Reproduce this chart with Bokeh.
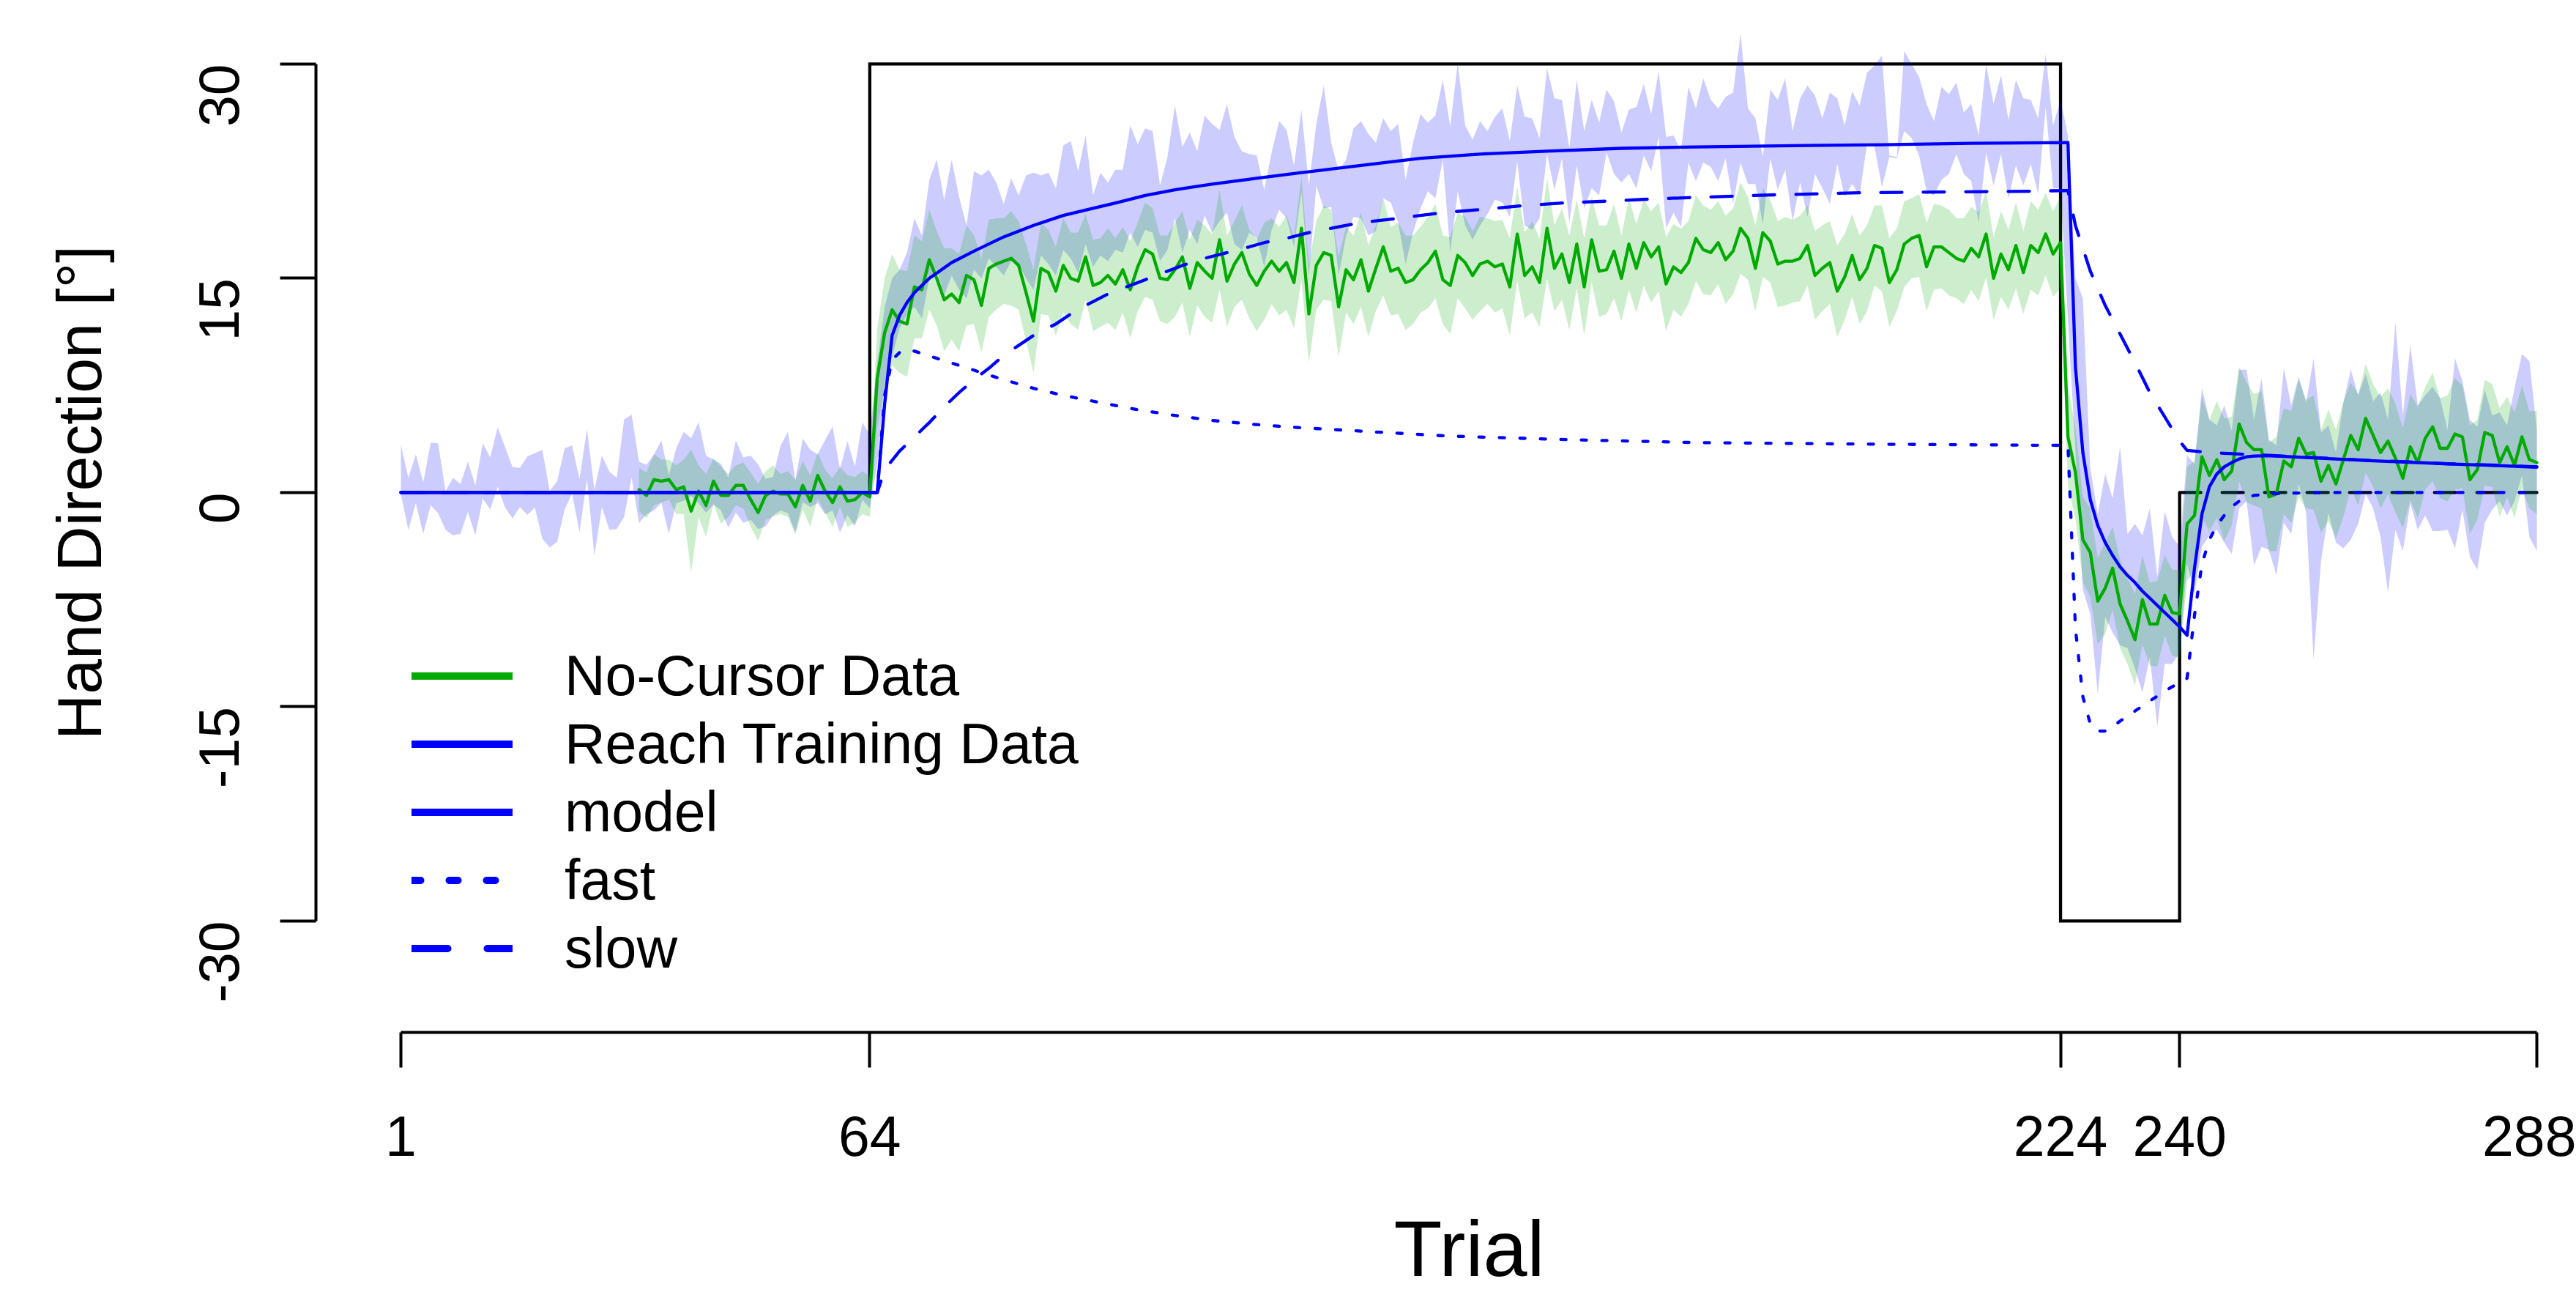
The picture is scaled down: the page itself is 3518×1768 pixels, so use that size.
import math
import numpy as np
from bokeh.plotting import figure
from bokeh.models import Range1d, LinearAxis, FixedTicker, Label, Legend, LegendItem
from bokeh.embed import file_html
from bokeh.resources import INLINE

# ---------------- data ----------------
trials = list(range(1, 289))

schedule_trials = [1, 64, 64, 224, 224, 240, 240]
schedule_values = [0, 0, 30, 30, -30, -30, 0]
clamp_trials = [240, 288]
clamp_values = [0, 0]

x_ticks = [1, 64, 224, 240, 288]
y_ticks = [-30, -15, 0, 15, 30]

# Reach training data: confidence band (trials 1..288)
reach_hi = [
    3.35, 1.04, 2.67, 0.70, 3.49, 3.44, 0.10, 1.04,
    0.60, 2.18, 0.48, 3.44, 2.46, 4.58, 3.18, 1.78,
    1.73, 2.53, 2.75, 3.00, 0.10, 0.79, 3.10, 3.30,
    0.92, 4.46, 0.19, 2.58, 1.47, 1.04, 5.14, 5.45,
    2.15, 1.95, 2.67, 3.64, 1.21, 3.10, 4.24, 3.80,
    4.92, 2.58, 2.32, 2.01, 1.04, 3.64, 2.46, 2.58,
    1.98, 0.96, 1.09, 3.27, 4.26, 0.87, 3.78, 3.00,
    2.67, 3.69, 4.63, 1.64, 3.61, 1.81, 4.92, 4.03,
    9.0, 13.0, 15.0, 15.6, 16.8, 19.2, 18.0, 21.9,
    23.3, 20.5, 23.3, 20.7, 18.7, 22.5, 22.2, 22.6,
    21.7, 20.2, 22.0, 20.8, 22.2, 22.4, 22.2, 22.4,
    21.3, 24.3, 24.6, 22.5, 25.0, 20.8, 22.4, 21.7,
    22.6, 22.6, 25.7, 24.4, 25.5, 25.3, 21.5, 23.5,
    27.1, 24.2, 25.2, 23.9, 26.4, 25.8, 25.4, 27.2,
    24.9, 23.9, 23.7, 23.6, 21.2, 23.8, 26.0, 25.4,
    22.9, 26.8, 21.5, 25.8, 28.5, 24.5, 22.5, 23.3,
    25.5, 26.0, 25.1, 24.5, 26.2, 25.3, 25.8, 21.9,
    24.5, 26.5, 25.9, 26.4, 28.9, 25.6, 30.1, 25.7,
    24.7, 26.0, 25.3, 26.3, 26.9, 24.6, 28.5, 26.3,
    26.2, 24.8, 29.7, 27.6, 27.5, 24.1, 28.9, 25.3,
    27.5, 25.9, 28.2, 27.4, 25.2, 26.8, 27.0, 28.6,
    26.5, 29.5, 24.9, 25.0, 23.9, 28.4, 26.9, 29.0,
    27.5, 26.9, 27.7, 28.0, 32.1, 26.9, 26.2, 23.5,
    28.2, 27.5, 29.0, 25.3, 27.6, 28.5, 27.8, 26.2,
    28.0, 27.6, 25.7, 28.1, 27.1, 29.4, 29.9, 30.6,
    23.6, 23.5, 30.9, 30.0, 29.1, 27.2, 26.0, 28.4,
    27.9, 28.7, 26.6, 27.2, 25.0, 30.0, 27.2, 29.2,
    26.1, 28.9, 27.6, 27.5, 26.2, 30.7, 25.7, 27.5,
    25.0, 15.0, 13.6, 1.7, -1.5, 1.3, -0.4, 3.2,
    -2.9, -2.2, -3.0, -1.1, -5.9, -1.3, -3.1, -3.8,
    2.6, 2.0, 7.3, 5.1, 4.7, 6.1, 4.3, 8.6,
    8.6, 5.1, 8.0, 3.7, 3.3, 8.7, 6.1, 8.1,
    6.3, 9.4, 4.2, 4.7, 2.8, 6.3, 8.6, 6.8,
    8.3, 6.4, 7.0, 5.1, 11.9, 5.4, 10.3, 6.1,
    6.8, 7.4, 6.6, 4.4, 9.4, 7.8, 5.1, 4.6,
    7.2, 5.4, 5.6, 4.7, 7.3, 9.7, 9.2, 4.4,
]
reach_lo = [
    -0.15, -2.63, -0.75, -2.89, -0.89, -1.44, -2.60, -3.00,
    -2.89, -1.35, -3.00, -0.41, -1.18, 0.41, -1.06, -1.81,
    -1.01, -1.57, -1.06, -3.23, -3.83, -3.45, -1.18, -0.07,
    -2.77, 0.96, -4.43, -1.01, -2.60, -2.55, -1.69, 1.04,
    -2.15, -1.52, -1.26, -0.72, -2.89, -0.75, -0.58, -0.24,
    -0.75, -1.40, -0.84, -1.23, -2.46, -1.40, -2.12, -1.91,
    -2.55, -2.38, -1.61, -1.26, -1.44, -2.80, -0.67, -1.01,
    -0.75, -1.52, -1.26, -2.80, -1.57, -2.38, -0.50, -1.09,
    2.0, 7.5, 9.5, 11.5, 12.5, 13.0, 12.2, 15.0,
    15.6, 13.8, 15.2, 14.2, 13.6, 15.6, 15.0, 16.4,
    15.8, 15.2, 16.2, 16.0, 15.0, 14.2, 16.6, 16.0,
    15.2, 17.0, 16.4, 15.4, 17.4, 15.8, 16.6, 16.2,
    17.0, 16.8, 18.2, 17.2, 18.4, 18.2, 16.2, 17.0,
    19.2, 16.8, 18.4, 17.4, 19.4, 18.2, 19.0, 19.6,
    17.4, 17.0, 18.2, 17.8, 15.8, 18.4, 19.8, 19.2,
    17.2, 21.0, 15.1, 21.5, 19.9, 20.0, 15.2, 18.0,
    19.3, 19.2, 18.0, 18.3, 20.6, 20.3, 18.9, 16.0,
    18.2, 19.9, 21.1, 20.6, 23.3, 16.8, 21.1, 18.7,
    17.7, 18.7, 19.5, 20.5, 20.3, 19.3, 23.2, 18.7,
    18.4, 19.2, 23.7, 21.2, 23.4, 18.9, 22.9, 19.9,
    21.3, 20.8, 23.8, 22.3, 21.7, 22.3, 21.3, 23.6,
    22.5, 24.9, 18.5, 19.6, 18.6, 23.1, 21.8, 23.1,
    22.8, 21.8, 23.4, 20.2, 23.1, 21.6, 21.6, 18.8,
    23.4, 21.2, 22.6, 19.0, 21.7, 19.3, 22.3, 21.3,
    20.2, 23.0, 20.7, 21.6, 20.8, 24.4, 24.2, 21.4,
    23.5, 23.4, 25.3, 24.8, 23.6, 21.1, 20.8, 21.9,
    22.3, 23.7, 22.3, 21.8, 18.9, 23.8, 21.5, 23.7,
    20.6, 22.9, 21.5, 23.0, 20.9, 27.0, 21.3, 21.3,
    12.0, 3.0, -6.8, -8.5, -14.1, -8.7, -9.8, -10.7,
    -10.9, -12.3, -14.0, -11.5, -16.4, -12.0, -12.0, -11.2,
    -5.0, -7.1, -3.8, -3.0, -2.6, -3.5, -4.3, -1.1,
    -0.6, -5.1, -3.8, -4.0, -5.8, -2.1, -2.9, 0.6,
    -1.4, -11.7, -4.8, -1.4, -3.5, -3.9, -3.3, -2.2,
    -0.1, -1.1, -3.1, -7.0, -2.6, -4.1, -0.75, -2.6,
    -1.6, -2.7, -2.7, -2.6, -3.9, -1.2, -4.5, -5.4,
    -2.1, -1.2, -0.6, -1.6, -0.6, 1.2, -3.1, -4.1,
]

# No-cursor data (trials 33..288): mean and confidence half-width
nocursor_trials = list(range(33, 289))
nocursor_mean = [
    0.2, -0.2, 0.9, 0.8, 0.9, 0.2, 0.4, -1.3,
    0.1, -0.9, 0.8, -0.2, -0.2, 0.5, 0.5, -0.5,
    -1.4, -0.2, 0.1, -0.1, -0.1, -1.0, 0.5, -0.6,
    1.2, 0.1, -0.7, 0.4, -0.6, -0.5, 0.0, -0.3,
    8.0, 11.2, 12.8, 12.0, 11.8, 14.4, 14.2, 16.3,
    15.0, 13.5, 13.9, 13.3, 15.2, 14.9, 13.1, 15.7,
    16.0, 16.2, 16.4, 15.9, 14.0, 12.0, 15.7, 15.4,
    14.1, 15.9, 15.0, 14.8, 16.5, 14.5, 14.7, 15.2,
    14.6, 15.6, 14.2, 15.8, 17.0, 16.7, 15.0, 14.9,
    15.6, 16.5, 14.3, 16.1, 15.5, 15.0, 17.7, 14.8,
    16.0, 16.8, 15.3, 14.5, 15.5, 16.2, 15.5, 16.1,
    14.7, 18.5, 12.5, 15.9, 16.8, 16.6, 13.0, 15.6,
    14.9, 16.3, 14.1, 15.7, 17.2, 15.5, 15.7, 14.7,
    14.9, 15.6, 16.1, 16.9, 14.9, 14.5, 16.6, 16.1,
    15.2, 16.0, 16.2, 15.8, 16.0, 14.4, 18.1, 15.2,
    15.8, 14.7, 18.5, 15.7, 16.7, 14.7, 17.4, 14.4,
    17.7, 15.5, 15.6, 16.9, 15.0, 17.4, 15.7, 17.5,
    16.5, 17.2, 14.6, 15.8, 15.4, 16.1, 17.8, 17.0,
    16.8, 17.5, 16.3, 16.9, 18.5, 17.8, 15.7, 18.2,
    17.6, 16.0, 16.2, 16.2, 16.4, 17.3, 15.2, 15.7,
    16.1, 14.1, 15.1, 16.6, 14.9, 15.7, 17.3, 17.1,
    14.7, 15.6, 17.4, 17.8, 18.0, 15.8, 17.2, 17.2,
    16.8, 16.4, 16.2, 17.1, 16.5, 18.1, 15.0, 16.7,
    15.6, 17.3, 15.4, 17.3, 16.8, 18.1, 16.7, 17.5,
    3.9, 1.4, -3.3, -4.2, -7.6, -6.7, -5.3, -7.8,
    -9.0, -10.3, -7.5, -9.2, -9.2, -7.2, -8.4, -8.5,
    -2.2, -1.6, 2.5, 1.2, 2.3, 0.9, 1.5, 4.8,
    3.5, 3.0, 3.0, -0.3, -0.1, 2.2, 1.8, 3.8,
    2.7, 2.8, 0.8, 1.9, 0.6, 2.3, 4.0, 3.0,
    5.2, 4.0, 2.8, 3.6, 2.4, 1.0, 3.2, 2.1,
    3.8, 4.6, 3.1, 3.1, 4.1, 3.9, 0.9, 1.6,
    4.2, 4.0, 2.1, 3.2, 1.9, 3.9, 2.3, 2.1,
]
nocursor_ci = [
    1.5, 1.6, 1.8, 1.5, 1.4, 1.7, 1.9, 4.3,
    1.8, 2.2, 1.6, 2.0, 1.5, 1.4, 1.6, 1.9,
    2.0, 1.7, 1.8, 1.4, 1.6, 1.9, 1.7, 1.8,
    1.6, 1.5, 1.7, 1.4, 1.8, 1.6, 1.5, 1.4,
    3.5, 3.8, 3.9, 3.6, 3.7, 3.6, 3.4, 3.5,
    3.3, 3.6, 3.2, 3.4, 3.5, 3.1, 3.3, 3.4,
    3.2, 3.0, 3.3, 3.1, 3.4, 3.6, 3.2, 3.0,
    3.1, 3.3, 3.2, 3.4, 3.0, 3.2, 3.1, 3.3,
    3.2, 3.0, 3.4, 3.1, 3.3, 3.2, 3.0, 3.1,
    3.3, 3.2, 3.4, 3.0, 3.2, 3.1, 3.5, 3.2,
    3.0, 3.3, 3.1, 3.2, 3.4, 3.0, 3.1, 3.3,
    3.2, 3.6, 3.4, 3.1, 3.3, 3.2, 3.5, 3.0,
    3.1, 3.3, 3.2, 3.0, 3.4, 3.1, 3.2, 3.3,
    3.1, 3.0, 3.2, 3.3, 3.1, 3.4, 3.0, 3.2,
    3.1, 3.3, 3.0, 3.2, 3.1, 3.4, 3.3, 3.0,
    3.2, 3.1, 3.5, 3.0, 3.2, 3.3, 3.1, 3.4,
    3.0, 3.2, 3.1, 3.3, 3.0, 3.2, 3.1, 3.0,
    3.2, 3.1, 3.3, 3.0, 3.1, 2.9, 3.0, 3.1,
    3.0, 2.9, 3.1, 3.0, 3.2, 2.9, 3.0, 3.1,
    2.9, 3.0, 3.1, 2.9, 3.0, 2.8, 3.1, 3.0,
    2.9, 3.2, 3.0, 2.9, 3.1, 3.0, 2.8, 3.0,
    3.1, 2.9, 3.0, 2.8, 2.9, 3.1, 3.0, 2.9,
    3.0, 2.8, 3.0, 2.9, 3.1, 3.0, 2.9, 3.0,
    2.8, 3.0, 2.9, 3.1, 3.0, 2.9, 3.0, 3.2,
    3.5, 3.2, 3.0, 3.1, 3.0, 3.2, 2.9, 3.1,
    3.0, 3.2, 3.1, 2.9, 3.0, 2.8, 3.0, 3.1,
    4.0, 3.8, 4.2, 3.9, 4.1, 4.3, 3.8, 4.0,
    4.2, 3.9, 4.1, 3.8, 4.0, 3.7, 3.9, 4.1,
    3.8, 4.0, 3.6, 3.9, 3.8, 4.0, 3.7, 3.9,
    3.8, 3.6, 3.9, 3.7, 3.8, 3.5, 3.7, 3.9,
    3.6, 3.8, 3.5, 3.7, 3.9, 3.6, 3.8, 3.5,
    3.7, 3.6, 3.8, 3.5, 3.7, 3.6, 3.4, 3.6,
]

# Two-rate model fit (read at selected trials)
model_trials = [1, 65, 66, 67, 68, 69, 70, 72, 75, 78, 82, 86, 90, 94, 98, 101, 105, 110,
                116, 122, 130, 138, 146, 155, 165, 175, 190, 200, 212, 225, 226, 227, 228,
                229, 230, 231, 232, 233, 234, 235, 236, 237, 238, 239, 240, 241, 242, 243,
                244, 245, 246, 247, 248, 249, 250, 252, 256, 260, 266, 272, 276, 282, 288]
model_values = [0, 0, 6.2, 11.0, 12.4, 13.3, 14.0, 15.0, 16.1, 16.9, 17.9, 18.7, 19.4, 19.9,
                20.4, 20.8, 21.2, 21.6, 22.0, 22.4, 22.9, 23.4, 23.7, 23.9, 24.1, 24.2, 24.3,
                24.35, 24.45, 24.5, 8.8, 2.8, -0.5, -2.3, -3.5, -4.4, -5.2, -5.8, -6.3, -6.9,
                -7.4, -7.9, -8.4, -8.9, -9.4, -10.0, -5.3, -1.5, 0.4, 1.3, 1.8, 2.1, 2.35,
                2.5, 2.55, 2.58, 2.48, 2.38, 2.22, 2.1, 2.0, 1.9, 1.78]
fast_trials = [1, 65, 66, 67, 68, 69, 70, 73, 76, 79, 82, 86, 90, 95, 100, 105, 110, 115,
               120, 130, 142, 158, 175, 195, 210, 225, 226, 227, 228, 229, 230, 231, 232,
               234, 236, 238, 240, 241, 242, 243, 244, 245, 246, 247, 248, 249, 250, 252,
               255, 260, 288]
fast_values = [0, 0, 6.8, 9.3, 9.8, 10.0, 9.9, 9.4, 8.9, 8.4, 7.9, 7.3, 6.8, 6.3, 5.8, 5.4,
               5.05, 4.8, 4.6, 4.3, 3.95, 3.7, 3.5, 3.4, 3.35, 3.3, -9.5, -14.3, -16.2,
               -16.7, -16.7, -16.4, -16.0, -15.3, -14.6, -13.9, -13.3, -13.0, -8.6, -5.0,
               -3.3, -2.3, -1.6, -1.0, -0.6, -0.35, -0.2, -0.1, -0.04, 0, 0]
slow_trials = [1, 65, 66, 68, 70, 72, 74, 76, 78, 80, 82, 84, 86, 89, 91, 93, 96, 99, 101,
               104, 106, 109, 112, 115, 117, 120, 123, 130, 135, 141, 147, 152, 158, 163,
               169, 174, 186, 198, 209, 220, 225, 226, 228, 230, 232, 234, 236, 238, 240,
               241, 243, 246, 252, 256, 260, 266, 272, 276, 282, 288]
slow_values = [0, 0, 1.6, 2.9, 3.9, 4.9, 6.0, 7.0, 7.9, 8.7, 9.6, 10.3, 11.0, 11.8, 12.5,
               13.1, 13.9, 14.5, 14.9, 15.5, 15.9, 16.4, 16.8, 17.2, 17.5, 17.8, 18.2, 18.9,
               19.2, 19.6, 19.85, 20.1, 20.3, 20.4, 20.55, 20.65, 20.85, 21.0, 21.05, 21.1,
               21.15, 18.7, 15.5, 13.1, 11.1, 9.1, 7.0, 5.3, 3.6, 2.95, 2.85, 2.75, 2.6,
               2.5, 2.4, 2.24, 2.12, 2.02, 1.92, 1.8]

assert len(reach_hi) == 288 and len(reach_lo) == 288
assert len(nocursor_mean) == 256 and len(nocursor_ci) == 256
assert len(model_trials) == len(model_values)
assert len(fast_trials) == len(fast_values)
assert len(slow_trials) == len(slow_values)

# ---------------- styles ----------------
GREEN = "#00AA00"
BLUE = "#0000FF"
FONT = "Liberation Sans"
LW = 4.3

nc_mean = np.array(nocursor_mean)
nc_ci = np.array(nocursor_ci)

# frame covers the whole canvas; axes are placed at fixed data locations
p = figure(width=3518, height=1768, output_backend="svg", toolbar_location=None,
           x_range=Range1d(-52.82, 293.31), y_range=Range1d(-56.21, 34.46),
           x_axis_type=None, y_axis_type=None, min_border=0,
           min_border_left=0, min_border_right=0, min_border_top=0,
           min_border_bottom=0)
p.outline_line_color = None
p.background_fill_color = "white"
p.border_fill_color = "white"

# schedule
p.line(schedule_trials, schedule_values, line_color="black", line_width=LW,
       line_join="miter")
p.line(clamp_trials, clamp_values, line_color="black", line_width=LW,
       line_dash="29 29", line_cap="round")

# bands
p.varea(x=trials, y1=reach_lo, y2=reach_hi, fill_color=BLUE, fill_alpha=0.2)
p.varea(x=nocursor_trials, y1=nc_mean - nc_ci, y2=nc_mean + nc_ci,
        fill_color=GREEN, fill_alpha=0.2)

# lines
p.line(nocursor_trials, nocursor_mean, line_color=GREEN, line_width=LW,
       line_join="round", line_cap="round")
p.line(model_trials, model_values, line_color=BLUE, line_width=LW,
       line_join="round", line_cap="round")
p.line(fast_trials, fast_values, line_color=BLUE, line_width=LW,
       line_dash="7 21", line_cap="round", line_join="round")
p.line(slow_trials, slow_values, line_color=BLUE, line_width=LW,
       line_dash="29 29", line_cap="round", line_join="round")

# axes
yax = LinearAxis(ticker=FixedTicker(ticks=y_ticks), bounds=(-30, 30),
                 fixed_location=-10.413)
yax.major_label_overrides = {t: str(t) for t in y_ticks}
yax.major_tick_out = 49
yax.major_tick_in = 0
yax.minor_tick_line_color = None
yax.axis_line_width = 4
yax.major_tick_line_width = 4
yax.major_label_text_font = FONT
yax.major_label_text_font_size = "77px"
yax.major_label_text_color = "black"
yax.major_label_orientation = math.pi / 2
yax.major_label_standoff = 84
p.add_layout(yax, "left")

xax = LinearAxis(ticker=FixedTicker(ticks=x_ticks), bounds=(1, 288),
                 fixed_location=-37.795)
xax.major_label_overrides = {t: str(t) for t in x_ticks}
xax.major_tick_out = 48
xax.major_tick_in = 0
xax.minor_tick_line_color = None
xax.axis_line_width = 4
xax.major_tick_line_width = 4
xax.major_label_text_font = FONT
xax.major_label_text_font_size = "77px"
xax.major_label_text_color = "black"
xax.major_label_standoff = 67
p.add_layout(xax, "below")

# axis titles
p.add_layout(Label(x=-42.24, y=0, text="Hand Direction [°]", angle=math.pi / 2,
                   text_align="center", text_baseline="middle",
                   text_font=FONT, text_font_size="86px", text_color="black"))
p.add_layout(Label(x=144.55, y=-52.95, text="Trial", text_align="center",
                   text_baseline="middle", text_font=FONT,
                   text_font_size="108px", text_color="black"))

# legend (proxy renderers lying outside the visible range, for thicker legend lines)
far_x = [-1000, -999]
far_y = [-1000, -1000]
lg_nc = p.line(far_x, far_y, line_color=GREEN, line_width=10, line_cap="round")
lg_rt = p.line(far_x, far_y, line_color=BLUE, line_width=10, line_cap="round")
lg_md = p.line(far_x, far_y, line_color=BLUE, line_width=10, line_cap="round")
lg_fs = p.line(far_x, far_y, line_color=BLUE, line_width=10, line_cap="round",
               line_dash="12 39")
lg_sl = p.line(far_x, far_y, line_color=BLUE, line_width=10, line_cap="round",
               line_dash="49 54")

legend = Legend(items=[
    LegendItem(label="No-Cursor Data", renderers=[lg_nc]),
    LegendItem(label="Reach Training Data", renderers=[lg_rt]),
    LegendItem(label="model", renderers=[lg_md]),
    LegendItem(label="fast", renderers=[lg_fs]),
    LegendItem(label="slow", renderers=[lg_sl]),
], location=(562, 427.5))
legend.glyph_width = 138
legend.glyph_height = 93
legend.label_height = 93
legend.label_standoff = 71
legend.spacing = 0
legend.padding = 0
legend.margin = 0
legend.border_line_color = None
legend.background_fill_alpha = 0
legend.label_text_font = FONT
legend.label_text_font_size = "77px"
legend.label_text_color = "black"
p.add_layout(legend)

open("out.html", "w").write(file_html(p, INLINE))
